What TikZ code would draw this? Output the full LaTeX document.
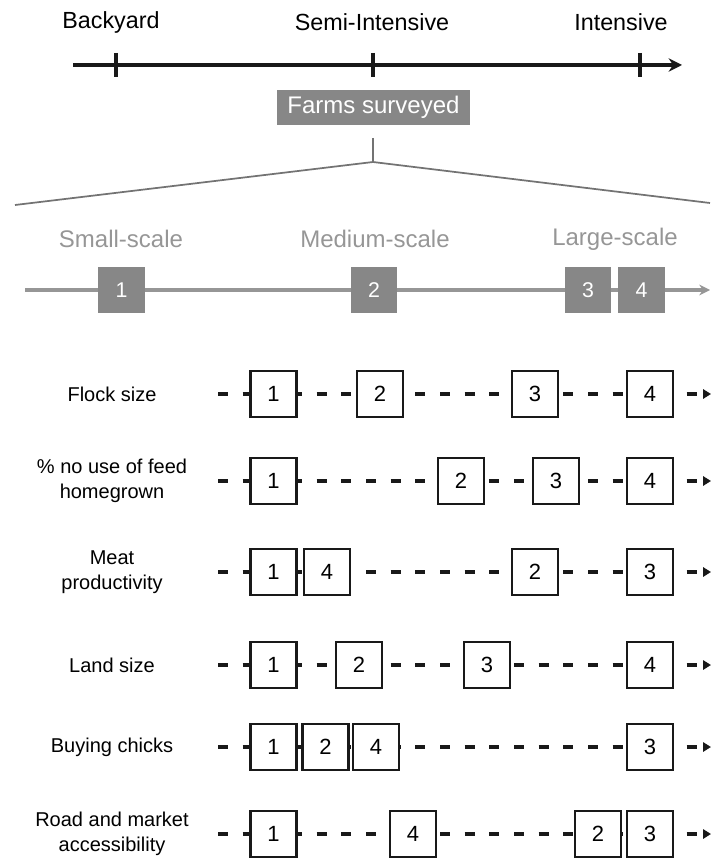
\documentclass[tikz,border=0pt]{standalone}
\usepackage{fontspec}
\setmainfont{Liberation Sans}
\usetikzlibrary{arrows.meta}
\definecolor{boxgray}{RGB}{135,135,135}
\definecolor{labgray}{RGB}{150,150,150}
\definecolor{linegray}{RGB}{150,150,150}
\definecolor{trigray}{RGB}{115,115,115}
\definecolor{dashcol}{RGB}{25,25,25}
\begin{document}
\begin{tikzpicture}[x=0.75pt,y=-0.75pt,
 toplabel/.style={font=\fontsize{17.5}{20}\selectfont, text=black, inner sep=0pt},
 scalelabel/.style={font=\fontsize{18}{21}\selectfont, text=labgray, inner sep=0pt},
 graybox/.style={fill=boxgray, text=white, minimum width=35pt, minimum height=34.5pt, inner sep=0pt, font=\fontsize{16}{18}\selectfont},
 rowbox/.style={draw=dashcol, line width=1.8pt, fill=white, minimum width=34.5pt, minimum height=34.5pt, inner sep=0pt, font=\fontsize{16.5}{18}\selectfont},
 rowlabel/.style={font=\fontsize{15}{18.5}\selectfont, align=center, inner sep=0pt},
 rowline/.style={draw=dashcol, line width=3pt, dash pattern=on 7.5pt off 11pt, -{Triangle[length=6pt,width=7pt]}},
]
\useasboundingbox (0,0) rectangle (710,862);

% top axis
\node[toplabel] (back) at (111,22) {Backyard};
\node[toplabel] (semi) at (372,22) {Semi-Intensive};
\node[toplabel] (inten) at (621,22) {Intensive};
\coordinate (axS) at (73,65);
\coordinate (axE) at (682,65);
\draw[line width=3pt, draw=dashcol, -{Stealth[length=10pt,width=10pt]}] (axS) -- (axE);
\foreach \x/\n in {116/a,373/b,640/c}{
  \coordinate (t\n1) at (\x,53);
  \coordinate (t\n2) at (\x,77);
  \draw[line width=2.4pt, draw=dashcol] (t\n1) -- (t\n2);
}

% farms surveyed
\node[fill=boxgray, text=white, minimum width=144.75pt, minimum height=26.25pt, inner sep=0pt, font=\fontsize{18}{20}\selectfont] (farms) at (373.5,107.5) {Farms surveyed};
\coordinate (stemtop) at (373,138);
\coordinate (apex) at (373,162);
\coordinate (triL) at (15,205);
\coordinate (triR) at (710,203);
\draw[draw=trigray, line width=1.3pt] (stemtop) -- (apex);
\draw[draw=trigray, line width=1.3pt] (triL) -- (apex) -- (triR);

% scale
\node[scalelabel] (small) at (121,239) {Small-scale};
\node[scalelabel] (medium) at (375,239) {Medium-scale};
\node[scalelabel] (large) at (615,239) {Large-scale};
\coordinate (scS) at (25,290);
\coordinate (scE) at (710,290);
\draw[draw=linegray, line width=2.8pt, -{Stealth[length=8pt,width=8pt]}] (scS) -- (scE);
\node[graybox] (g1) at (121.5,290) {1};
\node[graybox] (g2) at (374,290) {2};
\node[graybox] (g3) at (588,290) {3};
\node[graybox] (g4) at (641.5,290) {4};

% rows
\newcommand{\myrow}[4]{%
  \coordinate (r#1s) at (218,#2);
  \coordinate (r#1e) at (711,#2);
  \node[rowlabel] (lab#1) at (112,#2) {#3};
  \draw[rowline] (r#1s) -- (r#1e);
  \foreach \xx/\nn in {#4}{\node[rowbox] (b#1\nn) at (\xx,#2) {\nn};}
}
\myrow{a}{394}{Flock size}{273.5/1,380/2,535/3,650/4}
\myrow{b}{481}{\% no use of feed\\homegrown}{273.5/1,461/2,556/3,650/4}
\myrow{c}{572}{Meat\\productivity}{273.5/1,327/4,535/2,650/3}
\myrow{d}{665}{Land size}{273.5/1,359/2,487/3,650/4}
\myrow{e}{747}{Buying chicks}{273.5/1,325.5/2,376/4,650/3}
\myrow{f}{834}{Road and market\\accessibility}{273.5/1,413/4,598/2,650/3}
\end{tikzpicture}
\end{document}
